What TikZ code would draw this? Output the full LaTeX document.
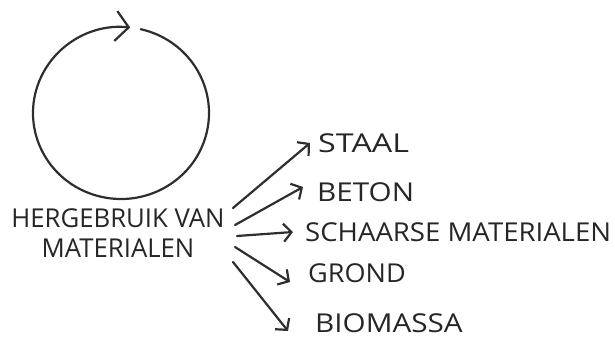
\documentclass[tikz,border=0pt]{standalone}
\usepackage{fontspec}
\setmainfont{Open Sans}
\usetikzlibrary{arrows.meta}
\begin{document}
\begin{tikzpicture}[x=1pt,y=-1pt,
  ink/.style={line width=2.2pt, draw=black!82, line cap=round, line join=round},
  barb/.style={ink, -{Straight Barb[length=8pt,width=18pt,line width=2.2pt]}},
  lbl/.style={inner sep=0pt, text=black!85, font=\fontsize{26}{30}\selectfont},
]
\useasboundingbox (0,0) rectangle (615,340);

% recycling loop with its arrow at the top
\draw[ink, -{Straight Barb[length=13pt,width=30pt,line width=2.2pt]}]
  (121,113) ++(-77:88 and 86) arc[start angle=-77, end angle=276, x radius=88, y radius=86];

% source label
\node[lbl, align=center] (src) at (118,233)
  {\scalebox{0.99}[1]{HERGEBRUIK VAN}\\\scalebox{0.99}[1]{MATERIALEN}};

% targets
\node[lbl, anchor=west] (staal) at (318,143) {\scalebox{1.24}[1]{STAAL}};
\node[lbl, anchor=west] (beton) at (317,192) {\scalebox{1.14}[1]{BETON}};
\node[lbl, anchor=west] (schaars) at (305,232) {\scalebox{1.06}[1]{SCHAARSE MATERIALEN}};
\node[lbl, anchor=west] (grond) at (308,273) {\scalebox{1.04}[1]{GROND}};
\node[lbl, anchor=west] (bio) at (315,323) {\scalebox{1.14}[1]{BIOMASSA}};

% arrow starts beside the source label
\coordinate (s1) at (233,208);
\coordinate (s2) at (235,225);
\coordinate (s3) at (237,236);
\coordinate (s4) at (235,247);
\coordinate (s5) at (233,262);

\draw[barb] (s1) -- ([shift={(-8,0)}]staal.west);
\draw[barb] (s2) -- ([shift={(-14,-5)}]beton.west);
\draw[barb] (s3) -- ([shift={(-12,0)}]schaars.west);
\draw[barb] (s4) -- ([shift={(-18,9)}]grond.west);
\draw[barb] (s5) -- ([shift={(-27,8)}]bio.west);
\end{tikzpicture}
\end{document}
